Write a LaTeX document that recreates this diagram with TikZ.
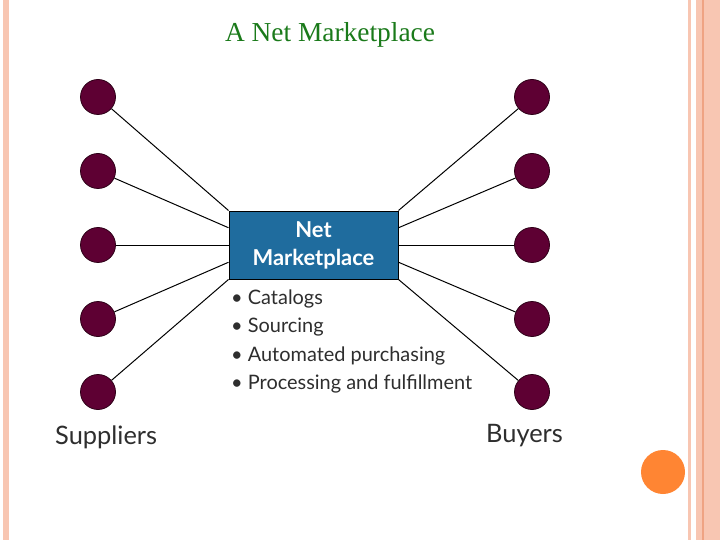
\documentclass[tikz,border=0pt]{standalone}
\usepackage{fontspec}
\setmainfont{Liberation Serif}
\newfontfamily\lato{Lato}
\usetikzlibrary{calc}
\definecolor{peach}{HTML}{F8C6B2}
\definecolor{peachdk}{HTML}{EFA383}
\definecolor{titlegreen}{HTML}{1A7A1A}
\definecolor{dot}{HTML}{5E0033}
\definecolor{dotedge}{HTML}{2E0018}
\definecolor{boxblue}{HTML}{1F6C9E}
\definecolor{accent}{HTML}{FF8533}
\definecolor{txt}{HTML}{2E2E2E}
\tikzset{
  party/.style={circle, fill=dot, draw=dotedge, line width=0.8pt, minimum size=35bp, inner sep=0pt},
  link/.style={draw=black, line width=1pt},
  hub/.style={rectangle, fill=boxblue, draw=black, line width=1pt, minimum width=169bp, minimum height=68bp, inner sep=0pt, text=white, align=center, font=\lato\bfseries\fontsize{22}{28}\selectfont},
  bullet/.style={anchor=west, inner sep=0pt, text=txt, font=\lato\fontsize{20}{22}\selectfont},
  role/.style={anchor=west, inner sep=0pt, text=txt, font=\lato\fontsize{25.5}{28}\selectfont}
}
\begin{document}
\begin{tikzpicture}[x=1bp,y=-1bp]
\useasboundingbox (0,0) rectangle (720,540);
\fill[white] (0,0) rectangle (720,540);
% frame stripes
\fill[peach] (3,0) rectangle (9,540);
\fill[peach] (688,0) rectangle (691,540);
\fill[peach] (696,0) rectangle (720,540);
\fill[peachdk] (702,0) rectangle (703.5,540);
\fill[accent] (663,472) circle (22);
% title
\node[text=titlegreen, font=\fontsize{27.5}{30}\selectfont, inner sep=0pt] (title) at (330,35) {A Net Marketplace};
% hub
\node[hub] (hub) at (313.5,245) {Net\\Marketplace};
% suppliers
\foreach \i/\y in {1/97,2/171,3/245,4/319,5/392} {
  \node[party] (s\i) at (98,\y) {};
  \node[party] (b\i) at (532,\y) {};
}
\foreach \i/\f in {1/0,2/0.25,3/0.5,4/0.75,5/1} {
  \draw[link] (s\i) -- ($(hub.north west)!\f!(hub.south west)$);
  \draw[link] (b\i) -- ($(hub.north east)!\f!(hub.south east)$);
}
% bullets
\node[bullet] (l1) at (231,299) {• Catalogs};
\node[bullet] (l2) at (231,327) {• Sourcing};
\node[bullet] (l3) at (231,356) {• Automated purchasing};
\node[bullet] (l4) at (231,384) {• Processing and fulfillment};
\node[role] (sup) at (55,437) {Suppliers};
\node[role] (buy) at (486,436) {Buyers};
\end{tikzpicture}
\end{document}
